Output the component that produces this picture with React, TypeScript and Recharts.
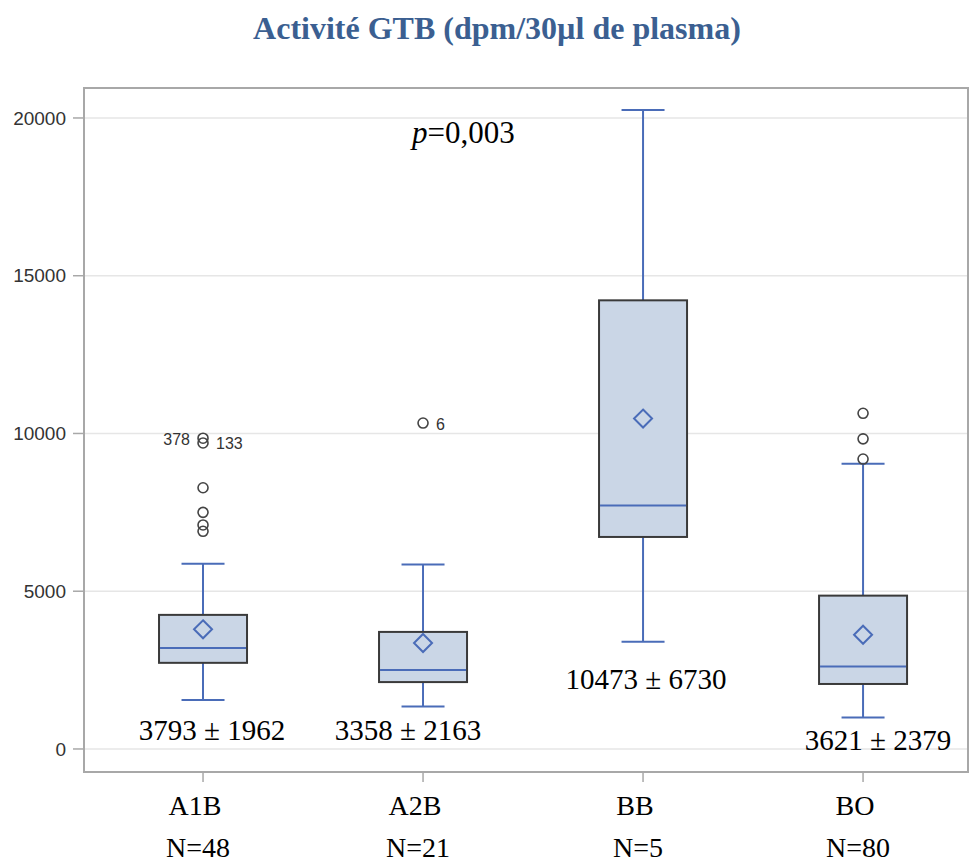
import React from 'react';
import {
  ComposedChart, Bar, Line, XAxis, YAxis, CartesianGrid, ReferenceArea, LabelList,
} from 'recharts';

// group names and sizes
const CATEGORIES = ['A1B', 'A2B', 'BB', 'BO'];
const N_COUNTS = [48, 21, 5, 80];

// box plot statistics (dpm/30µl)
const WHISKER_LOW = [1550, 1350, 3400, 1000];
const Q1 = [2730, 2120, 6720, 2060];
const MEDIAN = [3200, 2500, 7720, 2610];
const Q3 = [4250, 3710, 14220, 4860];
const WHISKER_HIGH = [5870, 5850, 20250, 9040];
const MEAN = [3793, 3358, 10473, 3621];
const SD = [1962, 2163, 6730, 2379];

// outliers per group and their labels (observation numbers)
const OUTLIERS = [[9850, 9700, 8280, 7500, 7100, 6900], [10330], [], [10640, 9830, 9190]];
const OUTLIER_IDS = [['378', '133'], ['6'], [], []];

const Y_TICKS = [0, 5000, 10000, 15000, 20000];
const Y_DOMAIN: [number, number] = [-730, 20950];
const X_DOMAIN: [number, number] = [-0.541, 3.477];
const P_VALUE = '0,003';

const BLUE = '#4a6cb8';
const BOX_FILL = '#cad6e6';
const BOX_STROKE = '#3a3a3a';
const SERIF = '"Liberation Serif", "Times New Roman", serif';
const SANS = '"Liberation Sans", Arial, sans-serif';

// label placement tweaks (pixels)
const OUTLIER_LABEL_SIDE = [['left', 'right'], ['right'], [], []];
const STATS_DX = [9, -15, 3, 15];
const STATS_DY = [30, 24, 37, 23];

const MAX_OUT = Math.max(...OUTLIERS.map((o) => o.length));

const data = CATEGORIES.map((name, i) => {
  const row: any = {
    idx: i,
    name,
    n: N_COUNTS[i],
    range: [WHISKER_LOW[i], WHISKER_HIGH[i]],
    wlo: WHISKER_LOW[i],
    whi: WHISKER_HIGH[i],
    q1: Q1[i],
    med: MEDIAN[i],
    q3: Q3[i],
    mean: MEAN[i],
    sd: SD[i],
  };
  for (let k = 0; k < MAX_OUT; k++) row['o' + k] = OUTLIERS[i][k] ?? null;
  return row;
});

function BoxShape(props: any) {
  const { x, y, width, height, payload } = props;
  if (x == null || !payload) return <g />;
  const top = Math.min(y, y + height);
  const h = Math.abs(height);
  const lo = payload.wlo;
  const hi = payload.whi;
  const toY = (v: number) => top + (h * (hi - v)) / (hi - lo);
  const cx = x + width / 2;
  const yq1 = toY(payload.q1);
  const yq3 = toY(payload.q3);
  const ym = toY(payload.med);
  const cap = 21.5;
  return (
    <g>
      <line x1={cx} x2={cx} y1={top} y2={yq3} stroke={BLUE} strokeWidth={2} />
      <line x1={cx} x2={cx} y1={yq1} y2={top + h} stroke={BLUE} strokeWidth={2} />
      <line x1={cx - cap} x2={cx + cap} y1={top} y2={top} stroke={BLUE} strokeWidth={2} />
      <line x1={cx - cap} x2={cx + cap} y1={top + h} y2={top + h} stroke={BLUE} strokeWidth={2} />
      <rect x={x} y={yq3} width={width} height={yq1 - yq3} fill={BOX_FILL} stroke={BOX_STROKE} strokeWidth={2} />
      <line x1={x + 1} x2={x + width - 1} y1={ym} y2={ym} stroke={BLUE} strokeWidth={2} />
    </g>
  );
}

function DiamondDot(props: any) {
  const { cx, cy, index } = props;
  if (cx == null || cy == null) return <g key={`m-${index}`} />;
  const r = 9;
  return (
    <path
      key={`m-${index}`}
      d={`M${cx},${cy - r}L${cx + r},${cy}L${cx},${cy + r}L${cx - r},${cy}Z`}
      fill="none"
      stroke={BLUE}
      strokeWidth={2}
    />
  );
}

const outlierDot = (k: number) => (props: any) => {
  const { cx, cy, index, value } = props;
  if (cx == null || cy == null || value == null) return <g key={`o${k}-${index}`} />;
  const id = OUTLIER_IDS[index]?.[k];
  const side = OUTLIER_LABEL_SIDE[index]?.[k];
  return (
    <g key={`o${k}-${index}`}>
      <circle cx={cx} cy={cy} r={5} fill="#fff" fillOpacity={0} stroke="#444" strokeWidth={1.6} />
      {id && (
        <text
          x={side === 'left' ? cx - 13 : cx + 13}
          y={cy + 1}
          textAnchor={side === 'left' ? 'end' : 'start'}
          dominantBaseline="central"
          fontFamily={SANS}
          fontSize={16}
          fill="#333"
        >
          {id}
        </text>
      )}
    </g>
  );
};

function StatsLabel(props: any) {
  const { x, y, index } = props;
  if (x == null || y == null) return null;
  const row = data[index];
  return (
    <text
      x={x + STATS_DX[index]}
      y={y + STATS_DY[index]}
      textAnchor="middle"
      dominantBaseline="central"
      fontFamily={SERIF}
      fontSize={29}
      fill="#000"
    >
      {`${row.mean} ± ${row.sd}`}
    </text>
  );
}

function CategoryTick(props: any) {
  const { x, y, payload } = props;
  const i = payload.value;
  return (
    <g>
      <text x={x - 8} y={y + 21} textAnchor="middle" dominantBaseline="central" fontFamily={SERIF} fontSize={28} fill="#000">
        {CATEGORIES[i]}
      </text>
      <text x={x - 5} y={y + 63} textAnchor="middle" dominantBaseline="central" fontFamily={SERIF} fontSize={28} fill="#000">
        {`N=${N_COUNTS[i]}`}
      </text>
    </g>
  );
}

export default function App() {
  return (
    <div style={{ position: 'absolute', left: 0, top: 0, width: 970, height: 861, background: '#fff', overflow: 'hidden' }}>
      <div
        style={{
          position: 'absolute', left: 0, width: 994, top: 8, textAlign: 'center',
          fontFamily: SERIF, fontWeight: 'bold', fontSize: 32, color: '#3b5f91', lineHeight: '40px',
        }}
      >
        Activité GTB (dpm/30µl de plasma)
      </div>
      <div
        style={{
          position: 'absolute', left: 412, top: 113, fontFamily: SERIF, fontSize: 31, color: '#000', lineHeight: '40px',
        }}
      >
        <i>p</i>={P_VALUE}
      </div>
      <ComposedChart width={970} height={861} data={data} margin={{ top: 88, right: 2, bottom: 0, left: 0 }}>
        <CartesianGrid vertical={false} stroke="#e6e6e6" strokeWidth={1.5} />
        <ReferenceArea
          x1={X_DOMAIN[0]} x2={X_DOMAIN[1]} y1={Y_DOMAIN[0]} y2={Y_DOMAIN[1]}
          fill="none" fillOpacity={0} stroke="#a8a8a8" strokeWidth={2} ifOverflow="visible"
        />
        <XAxis
          type="number"
          dataKey="idx"
          domain={X_DOMAIN}
          ticks={[0, 1, 2, 3]}
          allowDataOverflow
          height={89}
          axisLine={false}
          tickSize={10}
          tickLine={{ stroke: '#a8a8a8', strokeWidth: 1.5 }}
          tick={<CategoryTick />}
          interval={0}
        />
        <YAxis
          type="number"
          domain={Y_DOMAIN}
          ticks={Y_TICKS}
          allowDataOverflow
          width={84}
          axisLine={false}
          tickSize={11}
          tickMargin={7}
          tickLine={{ stroke: '#a8a8a8', strokeWidth: 1.5 }}
          tick={{ fontFamily: SANS, fontSize: 19, fill: '#333' }}
        />
        <Bar dataKey="range" barSize={88} shape={<BoxShape />} isAnimationActive={false} />
        <Line dataKey="mean" stroke="none" dot={(p: any) => <DiamondDot {...p} />} activeDot={false} isAnimationActive={false} />
        {Array.from({ length: MAX_OUT }, (_, k) => (
          <Line
            key={`o${k}`}
            dataKey={`o${k}`}
            stroke="none"
            dot={outlierDot(k)}
            activeDot={false}
            connectNulls={false}
            isAnimationActive={false}
          />
        ))}
        <Line dataKey="wlo" stroke="none" dot={false} activeDot={false} isAnimationActive={false}>
          <LabelList dataKey="wlo" content={<StatsLabel />} />
        </Line>
      </ComposedChart>
    </div>
  );
}
